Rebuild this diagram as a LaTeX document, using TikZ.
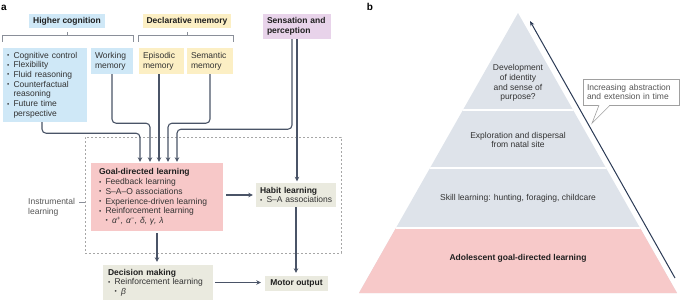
\documentclass[tikz,border=0pt]{standalone}
\usepackage{fontspec}
\setmainfont{Liberation Sans}
\usetikzlibrary{arrows.meta,positioning,calc}
\definecolor{cogblue}{HTML}{CFE8F7}
\definecolor{declyel}{HTML}{FCEFC4}
\definecolor{senspur}{HTML}{E8D3EA}
\definecolor{goalpink}{HTML}{F7C8C8}
\definecolor{habgrey}{HTML}{EAEADF}
\definecolor{pyrgrey}{HTML}{DEE3EA}
\definecolor{pyrpink}{HTML}{F7C9C9}
\definecolor{linec}{HTML}{4A5467}
\definecolor{brkc}{HTML}{8A8F99}
\definecolor{dashc}{HTML}{A6A6A6}
\definecolor{inkc}{HTML}{333333}
\definecolor{headc}{HTML}{1F1F1F}
\definecolor{notec}{HTML}{555555}
\definecolor{navyc}{HTML}{2B3A55}
\definecolor{callc}{HTML}{A0A0A0}
\newcommand{\fs}{\fontsize{8.5}{9.7}\selectfont}
\newcommand{\bl}{\makebox[6.5pt][l]{\raisebox{0.6pt}{\scalebox{0.75}{\textbullet}}}}
\newcommand{\ind}{\hspace*{6.5pt}}
\tikzset{
  txt/.style={font=\fs, text=inkc, inner sep=0pt},
  cbox/.style={txt, inner xsep=4pt, inner ysep=0pt, align=left},
  headbox/.style={cbox, font=\fs\bfseries, text=headc, align=center},
  link/.style={draw=linec, line width=1.1pt, rounded corners=4pt,
    -{Stealth[length=4.5pt,width=4.5pt]}},
  brk/.style={draw=brkc, line width=0.7pt},
  level/.style={txt, align=center},
  panel/.style={font=\bfseries\fontsize{10}{12}\selectfont, text=black, inner sep=0pt},
  rise/.style={draw=navyc, line width=1pt, -{Stealth[length=5pt,width=4pt]}},
}
\begin{document}
\begin{tikzpicture}[x=1pt,y=-1pt]
  \useasboundingbox (0,0) rectangle (680,301);
  % panel a: sources
  \node[panel] (pa) at (4,8) {a};
  \node[headbox, fill=cogblue, minimum width=74pt, minimum height=14pt] (hicog) at (67,21) {Higher cognition};
  \node[headbox, fill=declyel, minimum width=88pt, minimum height=14pt] (decl) at (187,21) {Declarative memory};
  \node[cbox, font=\fs\bfseries, text=headc, fill=senspur, text width=60pt, minimum height=25pt] (sens) at (297,26.5) {Sensation and\\perception};
  \node[cbox, fill=cogblue, text width=76pt, minimum height=74pt] (cogl) at (45,85)
    {\bl Cognitive control\\\bl Flexibility\\\bl Fluid reasoning\\\bl Counterfactual\\\ind reasoning\\\bl Future time\\\ind perspective};
  \node[cbox, fill=cogblue, text width=34pt, minimum height=26pt] (workm) at (112,61) {Working\\memory};
  \node[cbox, fill=declyel, text width=37pt, minimum height=26pt] (epism) at (161.5,61) {Episodic\\memory};
  \node[cbox, fill=declyel, text width=38pt, minimum height=26pt] (semm) at (210,61) {Semantic\\memory};
  % brackets
  \draw[brk] ([yshift=6pt]cogl.north west) -- ([yshift=12pt]cogl.north west) -| ([yshift=6pt]workm.north east);
  \draw[brk] (hicog.south) ++(0,4) -- ++(0,4);
  \draw[brk] ([yshift=6pt]epism.north west) -- ([yshift=12pt]epism.north west) -| ([yshift=6pt]semm.north east);
  \draw[brk] (decl.south) ++(0,4) -- ++(0,4);
  % instrumental learning
  \node[draw=dashc, dash pattern=on 2pt off 2pt, line width=0.6pt, minimum width=256pt, minimum height=116pt, inner sep=0pt] (instr) at (213,195) {};
  \node[txt, text=notec, align=left, anchor=west] (instl) at (28,207) {Instrumental\\learning};
  \draw[brk] (instr.west |- 0,202) -- ++(-6,0);
  \node[cbox, inner xsep=8pt, fill=goalpink, text width=116pt, minimum height=68pt] (goal) at (157,197)
    {{\bfseries\color{headc}Goal-directed learning}\\\bl Feedback learning\\\bl S–A–O associations\\\bl Experience-driven learning\\\bl Reinforcement learning\\\ind\bl{\itshape α\textsuperscript{+}, α\textsuperscript{−}, δ, γ, λ}};
  \node[cbox, inner xsep=4pt, fill=habgrey, text width=72pt, minimum height=24pt] (habit) at (296,195)
    {{\bfseries\color{headc}Habit learning}\\\bl \mbox{S–A associations}};
  \node[cbox, inner xsep=5pt, fill=habgrey, text width=100pt, minimum height=35pt] (dec) at (158,282.5)
    {{\bfseries\color{headc}Decision making}\\\bl Reinforcement learning\\\ind\bl{\itshape β}};
  \node[headbox, fill=habgrey, minimum width=63pt, minimum height=15pt] (motor) at (296.5,283.5) {Motor output};
  % connectors
  \draw[link, shorten >=1pt] ([xshift=-3pt]cogl.south) -- ++(0,11) -| ([xshift=-17pt]goal.north);
  \draw[link, shorten >=1pt] (workm.south) -- ++(0,49) -| ([xshift=-7pt]goal.north);
  \draw[link, shorten >=1pt] ([xshift=-2.5pt]epism.south) -- ([xshift=2pt]goal.north);
  \draw[link, shorten >=1pt] (semm.south) -- ++(0,49) -| ([xshift=11pt]goal.north);
  \draw[link, shorten >=1pt] ([xshift=-5pt]sens.south) -- ++(0,90) -| ([xshift=20pt]goal.north);
  \draw[link, shorten >=1.5pt] (sens.south) -- (sens.south |- habit.north);
  \draw[link, shorten <=3pt, shorten >=3pt] ([yshift=2pt]goal.east) -- ([yshift=2pt]goal.east -| habit.west);
  \draw[link, shorten <=2pt, shorten >=3pt] (goal.south) -- (goal.south |- dec.north);
  \draw[link, shorten <=2pt, shorten >=4pt] (dec.east) -- (dec.east -| motor.west);
  \draw[link, shorten >=3pt] (habit.south) -- (habit.south |- motor.north);
  % panel b: pyramid
  \node[panel] (pb) at (370,7) {b};
  \coordinate (apex) at (518,13);
  \coordinate (bl) at (359,293);
  \coordinate (br) at (677,293);
  \fill[pyrgrey] (apex) -- (bl) -- (br) -- cycle;
  \begin{scope}
    \clip (apex) -- (bl) -- (br) -- cycle;
    \fill[pyrpink] (350,228) rectangle (680,300);
    \foreach \y in {110,168,228} {\draw[white, line width=1.6pt] (350,\y) -- (680,\y);}
  \end{scope}
  \node[level] (lv4) at (518,83) {Development\\of identity\\and sense of\\purpose?};
  \node[level] (lv3) at (518,140) {Exploration and dispersal\\from natal site};
  \node[level] (lv2) at (518,198) {Skill learning: hunting, foraging, childcare};
  \node[level, font=\fs\bfseries, text=headc] (lv1) at (518,258) {Adolescent goal-directed learning};
  \coordinate (ascS) at (675,278);
  \coordinate (ascE) at (530,21);
  \draw[rise] (ascS) -- (ascE);
  % callout
  \node[txt, text=notec, align=left, draw=callc, fill=white, line width=0.6pt, inner xsep=4pt,
    text width=88pt, minimum height=26pt] (call) at (631,92) {Increasing abstraction\\and extension in time};
  \coordinate (ptip) at ([xshift=-39pt,yshift=-18pt]call.south);
  \fill[white] ([xshift=-32pt,yshift=0.6pt]call.south) -- (ptip) -- ([xshift=-21pt,yshift=0.6pt]call.south) -- cycle;
  \draw[callc, line width=0.6pt] ([xshift=-32pt]call.south) -- (ptip) -- ([xshift=-21pt]call.south);
\end{tikzpicture}
\end{document}
